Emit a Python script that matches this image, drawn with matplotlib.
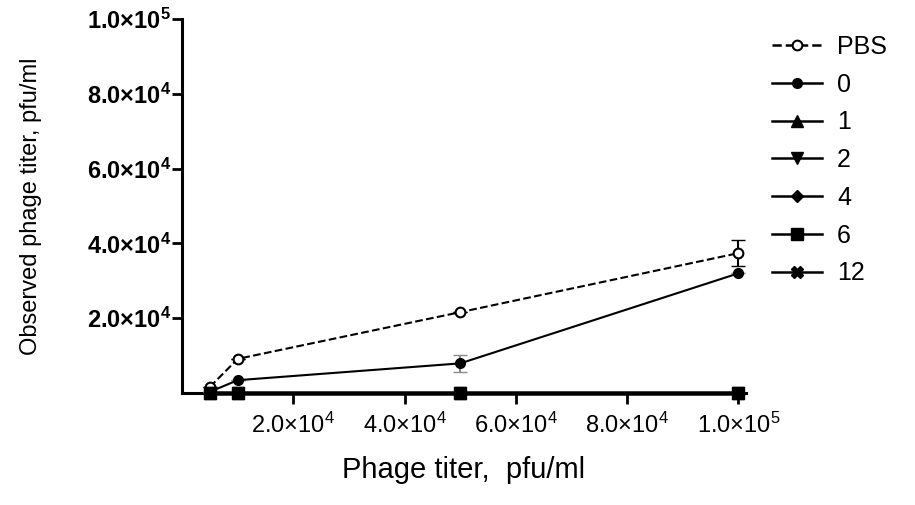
import matplotlib
matplotlib.use("Agg")
import matplotlib.pyplot as plt
from matplotlib.ticker import FixedLocator, FuncFormatter

plt.rcParams["font.family"] = ["Liberation Sans", "DejaVu Sans"]
plt.rcParams["mathtext.fontset"] = "custom"
plt.rcParams["mathtext.rm"] = "Liberation Sans"
plt.rcParams["mathtext.bf"] = "Liberation Sans:bold"

# phage input titer (pfu/ml)
titer = [5e3, 1e4, 5e4, 1e5]

series_labels = ["PBS", "0", "1", "2", "4", "6", "12"]
pbs = [1.6e3, 9.1e3, 21.6e3, 37.4e3]
pbs_err = [0, 0, 0, 3.5e3]
h0 = [300, 3.4e3, 7.9e3, 32.0e3]
h0_err = [0, 0, 2.3e3, 0]
h1 = [0, 0, 0, 0]
h2 = [0, 0, 0, 0]
h4 = [0, 0, 0, 0]
h6 = [0, 0, 0, 0]
h12 = [0, 0, 0, 0]

xticks = [2e4, 4e4, 6e4, 8e4, 1e5]
yticks = [2e4, 4e4, 6e4, 8e4, 1e5]


def sci(v, bold=False):
    exp = len(str(int(v))) - 1
    mant = v / 10 ** exp
    if bold:
        return r"$\mathbf{%.1f{\times}10^{%d}}$" % (mant, exp)
    return r"$\mathrm{%.1f{\times}10^{%d}}$" % (mant, exp)


fig = plt.figure(figsize=(9.15, 5.05), dpi=100)
ax = fig.add_axes([0.199, 0.222, 0.616, 0.74])

# error bars drawn separately so the legend shows plain line+marker
ax.errorbar(titer, pbs, yerr=pbs_err, fmt="none", ecolor="black",
            capsize=5, elinewidth=1.5, clip_on=False, zorder=3)
ax.errorbar(titer, h0, yerr=h0_err, fmt="none", ecolor="#8c8c8c",
            capsize=5, elinewidth=1.5, clip_on=False, zorder=3)

ax.plot(titer, pbs, "--o", color="black", mfc="white", mec="black", ms=7,
        lw=1.5, mew=1.5, label="PBS", clip_on=False, zorder=5)
ax.plot(titer, h0, "-o", color="black", ms=7, lw=1.5, label="0",
        clip_on=False, zorder=4)
others = [(h1, "^", "1"), (h2, "v", "2"), (h4, "D", "4"), (h6, "s", "6"),
          (h12, "X", "12")]
for vals, mk, lab in others:
    ms = 6 if mk == "D" else 8
    ax.plot(titer, vals, "-", marker=mk, color="black", ms=ms, lw=2.5,
            label=lab, clip_on=False, zorder=6)

ax.set_xlim(0, 1.013e5)
ax.set_ylim(0, 1e5)
ax.xaxis.set_major_locator(FixedLocator(xticks))
ax.yaxis.set_major_locator(FixedLocator(yticks))
ax.xaxis.set_major_formatter(FuncFormatter(lambda v, p: sci(v)))
ax.yaxis.set_major_formatter(FuncFormatter(lambda v, p: sci(v, bold=True)))

for s in ["top", "right"]:
    ax.spines[s].set_visible(False)
for s in ["left", "bottom"]:
    ax.spines[s].set_linewidth(2.2)
ax.tick_params(axis="x", direction="out", length=8, width=2, labelsize=17, pad=6)
ax.tick_params(axis="y", direction="out", length=7, width=2, labelsize=17, pad=1)

ax.set_xlabel("Phage titer,  pfu/ml", fontsize=21, labelpad=13)
ax.set_ylabel("Observed phage titer, pfu/ml", fontsize=17, labelpad=32)

leg = ax.legend(loc="upper left", bbox_to_anchor=(1.007, 1.018), frameon=False,
                fontsize=18, handlelength=2.0, labelspacing=0.55,
                handletextpad=0.6)
for h in leg.get_lines():
    h.set_linewidth(1.8)

fig.savefig("out.png", dpi=100)
